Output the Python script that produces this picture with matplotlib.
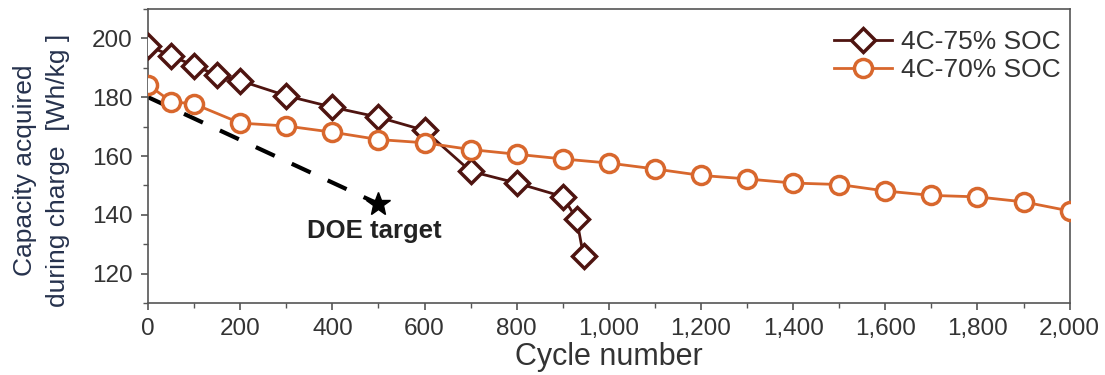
import matplotlib
matplotlib.use("Agg")
import matplotlib.pyplot as plt
from matplotlib.ticker import MultipleLocator, FuncFormatter

plt.rcParams['font.family'] = ['Liberation Sans', 'DejaVu Sans']

# 4C charging to 75% state of charge
cycles_75 = [0, 50, 100, 150, 200, 300, 400, 500, 600, 700, 800, 900, 930, 945]
cap_75 = [197.5, 194.1, 190.7, 187.5, 185.6, 180.5, 176.6, 173.2, 168.7, 154.8, 150.8, 146.2, 138.6, 126.0]

# 4C charging to 70% state of charge
cycles_70 = [0, 50, 100, 200, 300, 400, 500, 600, 700, 800, 900, 1000,
             1100, 1200, 1300, 1400, 1500, 1600, 1700, 1800, 1900, 2000]
cap_70 = [184.2, 178.5, 177.7, 171.2, 170.2, 168.1, 165.6, 164.5, 162.2, 160.6, 159.0, 157.6,
          155.6, 153.4, 152.2, 150.8, 150.3, 148.1, 146.6, 146.1, 144.4, 141.3]

# DOE target trajectory
doe_cycles = [0, 500]
doe_cap = [180.0, 143.7]

c75 = '#4e1410'
c70 = '#d8672d'
tick_col = '#333333'
label_col = '#26324d'

fig = plt.figure(figsize=(11.05, 3.75), dpi=100)
ax = fig.add_axes([0.134, 0.192, 0.834, 0.784])

ax.plot(doe_cycles, doe_cap, color='black', lw=3.0, ls=(0, (5, 4.5)), zorder=2)
ax.plot(doe_cycles[-1], doe_cap[-1], marker='*', color='black', ms=18, zorder=3, clip_on=False)
ax.text(490, 134.5, 'DOE target', fontsize=18.5, fontweight='bold', color='#222222',
        ha='center', va='center')

ax.plot(cycles_75, cap_75, color=c75, lw=2.0, marker='D', ms=12, mfc='white',
        mec=c75, mew=2.5, label='4C-75% SOC', zorder=4)
ax.plot(cycles_70, cap_70, color=c70, lw=2.0, marker='o', ms=13, mfc='white',
        mec=c70, mew=2.5, label='4C-70% SOC', zorder=4)

ax.set_xlim(0, 2000)
ax.set_ylim(110, 210)
ax.xaxis.set_major_locator(MultipleLocator(200))
ax.xaxis.set_minor_locator(MultipleLocator(100))
ax.yaxis.set_minor_locator(MultipleLocator(10))
ax.xaxis.set_major_formatter(FuncFormatter(lambda v, p: f'{int(v):,}'))
ax.set_yticks([120, 140, 160, 180, 200])

ax.tick_params(axis='both', which='major', direction='out', length=5, width=1.2,
               colors='#555555', labelcolor=tick_col, labelsize=17.5, pad=6)
ax.tick_params(axis='both', which='minor', direction='out', length=3.5, width=1.0,
               colors='#555555')
for s in ax.spines.values():
    s.set_color('#555555')
    s.set_linewidth(1.2)

ax.set_xlabel('Cycle number', fontsize=22, color=tick_col, labelpad=1)
ax.set_ylabel('Capacity acquired\nduring charge  [Wh/kg ]', fontsize=19, color=label_col,
              labelpad=12, linespacing=1.45)
ax.yaxis.set_label_coords(-0.085, 0.45)

leg = ax.legend(loc='upper right', bbox_to_anchor=(1.012, 0.995), frameon=False,
                fontsize=19, handlelength=2.2, handletextpad=0.35, borderaxespad=0.35,
                labelspacing=0.15)
for t in leg.get_texts():
    t.set_color(tick_col)

fig.savefig('out.png', dpi=100)
